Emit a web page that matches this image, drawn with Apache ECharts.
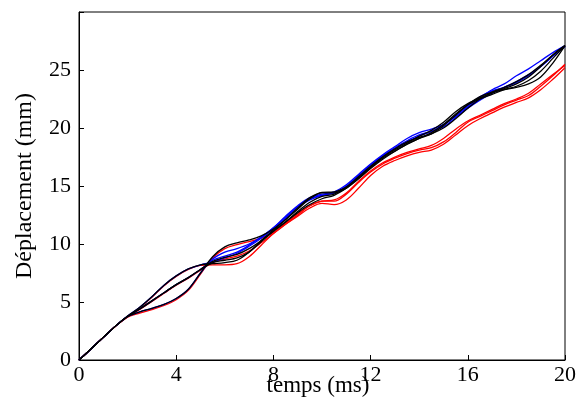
<!DOCTYPE html>
<html><head><meta charset="utf-8">
<script src="https://cdn.jsdelivr.net/npm/echarts@6/dist/echarts.min.js"></script>
<style>html,body{margin:0;padding:0;background:#fff}#c{width:582px;height:403px}</style>
</head><body><div id="c"></div>
<script>
const time = [0,0.5,1,1.5,2,2.5,3,3.5,4,4.5,5,5.5,6,6.5,7,7.5,8,8.5,9,9.5,10,10.5,11,11.5,12,12.5,13,13.5,14,14.5,15,15.5,16,16.5,17,17.5,18,18.5,19,19.5,20];
const xTicks = [0,4,8,12,16,20];
const yTicks = [0,5,10,15,20,25];

const red1 = [0,0.97,1.95,2.92,3.7,4.05,4.35,4.7,5.2,6.0,7.4,8.8,9.6,9.95,10.2,10.5,11.0,11.8,12.6,13.3,13.7,13.7,14.3,15.3,16.2,16.9,17.4,17.8,18.1,18.3,18.8,19.6,20.5,21.0,21.5,22.0,22.4,22.8,23.6,24.5,25.5];
const red2 = [0,0.97,1.95,2.92,3.75,4.5,5.4,6.4,7.2,7.8,8.15,8.2,8.2,8.3,8.9,9.9,10.9,11.7,12.4,13.1,13.5,13.4,13.8,14.8,15.9,16.7,17.2,17.6,17.9,18.1,18.6,19.4,20.2,20.8,21.3,21.8,22.2,22.6,23.3,24.2,25.2];
const red3 = [0,0.97,1.95,2.92,3.7,4.35,5.05,5.75,6.45,7.05,7.75,8.4,8.7,8.95,9.4,10.1,10.9,11.7,12.5,13.3,13.7,13.8,14.4,15.4,16.3,17.0,17.5,17.9,18.2,18.5,19.1,19.9,20.6,21.1,21.6,22.1,22.5,23.0,23.8,24.6,25.4];
const blue1 = [0,0.97,1.95,2.92,3.75,4.4,5.1,5.8,6.5,7.1,7.8,8.6,8.95,9.3,9.9,10.6,11.4,12.4,13.3,14.0,14.3,14.5,15.1,16.0,16.9,17.7,18.4,19.1,19.6,19.9,20.3,21.0,21.8,22.6,23.3,23.8,24.5,25.1,25.8,26.5,27.1];
const blue2 = [0,0.97,1.95,2.92,3.8,4.55,5.45,6.45,7.25,7.85,8.2,8.45,8.8,9.2,9.8,10.5,11.3,12.2,13.2,13.9,14.2,14.4,14.9,15.8,16.7,17.6,18.3,18.9,19.4,19.7,20.1,20.9,21.7,22.4,23.0,23.5,24.0,24.6,25.3,26.2,27.0];
const blue3 = [0,0.97,1.95,2.92,3.75,4.15,4.45,4.8,5.3,6.1,7.5,8.7,9.3,9.6,10.0,10.6,11.4,12.3,13.2,13.8,14.2,14.4,15.0,15.9,16.8,17.6,18.2,18.8,19.3,19.7,20.3,21.1,21.9,22.7,23.2,23.5,23.9,24.5,25.3,26.2,27.1];
const black1 = [0,0.97,1.95,2.92,3.75,4.15,4.45,4.8,5.3,6.1,7.5,8.9,9.75,10.1,10.35,10.7,11.3,12.1,13.0,13.9,14.45,14.5,14.9,15.7,16.6,17.4,18.0,18.6,19.1,19.6,20.3,21.2,22.0,22.5,22.9,23.3,23.6,24.1,24.9,26.0,27.1];
const black2 = [0,0.97,1.95,2.92,3.8,4.55,5.45,6.45,7.25,7.85,8.2,8.3,8.4,8.6,9.3,10.3,11.2,12.1,13.1,14.0,14.4,14.4,14.8,15.7,16.6,17.5,18.2,18.8,19.2,19.5,20.0,20.8,21.7,22.5,23.1,23.5,24.0,24.6,25.4,26.3,27.1];
const black3 = [0,0.97,1.95,2.92,3.75,4.4,5.1,5.8,6.5,7.1,7.8,8.5,8.85,9.1,9.6,10.3,11.1,11.9,12.8,13.6,14.1,14.3,14.9,15.8,16.7,17.5,18.1,18.7,19.3,19.8,20.5,21.4,22.1,22.6,23.0,23.4,23.8,24.4,25.3,26.3,27.1];
const black4 = [0,0.97,1.95,2.92,3.75,4.4,5.1,5.8,6.5,7.1,7.8,8.4,8.6,8.8,9.3,10.2,11.1,11.9,12.7,13.4,13.9,14.2,14.8,15.6,16.5,17.3,18.0,18.6,19.1,19.5,20.2,21.1,22.0,22.7,23.1,23.3,23.5,23.8,24.4,25.6,27.1];

const groups = [
  {color:'#ff0000', list:[red1,red2,red3]},
  {color:'#0000ff', list:[blue1,blue2,blue3]},
  {color:'#000000', list:[black1,black2,black3,black4]}
];
const series = [];
groups.forEach(g => g.list.forEach(vals => {
  series.push({type:'line', data: time.map((t,i)=>[t, vals[i]]), smooth:0.35, symbol:'none',
    lineStyle:{color:g.color, width:1.3}, itemStyle:{color:g.color}, animation:false, silent:true});
}));

const FONT = 'Liberation Serif';
const chart = echarts.init(document.getElementById('c'), null, {renderer:'canvas'});
chart.setOption({
  backgroundColor:'#fff',
  animation:false,
  grid:{left:79, right:17, top:12, bottom:43, show:true, borderColor:'#000', borderWidth:1,
    backgroundColor:'transparent', containLabel:false, outerBoundsMode:'none'},
  xAxis:{type:'value', min:xTicks[0], max:xTicks[xTicks.length-1], interval:4,
    name:'temps (ms)', nameLocation:'middle', nameGap:14, nameMoveOverlap:false,
    nameTextStyle:{fontFamily:FONT, fontSize:23, color:'#000', padding:[0,8,0,0]},
    axisLine:{lineStyle:{color:'#000', width:1}},
    axisTick:{inside:true, length:5, lineStyle:{color:'#000'}},
    axisLabel:{fontFamily:FONT, fontSize:22, color:'#000', margin:4},
    splitLine:{show:false}},
  yAxis:{type:'value', min:yTicks[0], max:30, interval:5,
    name:'Déplacement (mm)', nameLocation:'middle', nameGap:42, nameMoveOverlap:false,
    nameTextStyle:{fontFamily:FONT, fontSize:24, color:'#000'},
    axisLine:{show:true, lineStyle:{color:'#000', width:1}},
    axisTick:{show:true, inside:true, length:5, lineStyle:{color:'#000'}},
    axisLabel:{fontFamily:FONT, fontSize:22, color:'#000', margin:8,
      formatter: v => yTicks.includes(v) ? String(v) : ''},
    splitLine:{show:false}},
  series: series
});
</script></body></html>
